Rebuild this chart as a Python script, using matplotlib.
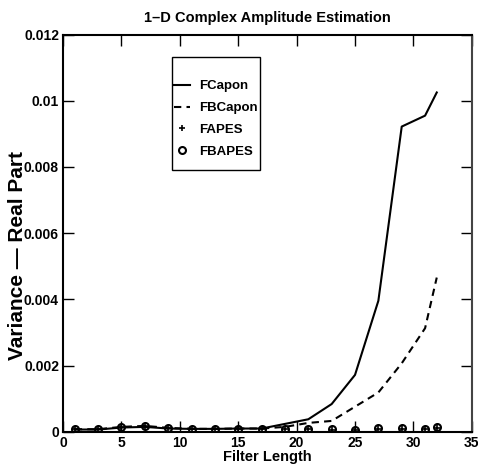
"""Recreate the 1-D complex amplitude estimation variance plot."""

import matplotlib

matplotlib.use("Agg")
import matplotlib.pyplot as plt
from matplotlib.patches import Rectangle

filter_length = [1, 3, 5, 7, 9, 11, 13, 15, 17, 19, 21, 23, 25, 27, 29, 31, 32]

fcapon = [0.07e-3, 0.07e-3, 0.13e-3, 0.15e-3, 0.10e-3, 0.09e-3, 0.09e-3, 0.10e-3,
          0.10e-3, 0.24e-3, 0.38e-3, 0.84e-3, 1.72e-3, 3.96e-3, 9.22e-3, 9.55e-3,
          10.25e-3]
fbcapon = [0.08e-3, 0.08e-3, 0.15e-3, 0.18e-3, 0.12e-3, 0.09e-3, 0.09e-3, 0.10e-3,
           0.10e-3, 0.15e-3, 0.27e-3, 0.33e-3, 0.76e-3, 1.19e-3, 2.07e-3, 3.13e-3,
           4.66e-3]
fapes = [0.08e-3, 0.08e-3, 0.16e-3, 0.19e-3, 0.13e-3, 0.08e-3, 0.08e-3, 0.09e-3,
         0.08e-3, 0.08e-3, 0.09e-3, 0.07e-3, 0.06e-3, 0.10e-3, 0.10e-3, 0.08e-3,
         0.12e-3]
fbapes = [0.08e-3, 0.08e-3, 0.15e-3, 0.18e-3, 0.12e-3, 0.08e-3, 0.08e-3, 0.09e-3,
          0.08e-3, 0.08e-3, 0.09e-3, 0.08e-3, 0.07e-3, 0.11e-3, 0.11e-3, 0.09e-3,
          0.14e-3]

plt.rcParams["font.family"] = ["Liberation Sans", "DejaVu Sans"]
plt.rcParams["font.weight"] = "bold"

fig = plt.figure(figsize=(4.78, 4.73), dpi=100)
ax = fig.add_axes([0.132, 0.087, 0.855, 0.840])

ax.plot(filter_length, fcapon, "k-", lw=1.5, label="FCapon")
ax.plot(filter_length, fbcapon, "k--", lw=1.5, dashes=(3.5, 2.5), label="FBCapon")
ax.plot(filter_length, fapes, "k+", ms=5, mew=1.2, ls="none", label="FAPES")
ax.plot(filter_length, fbapes, "o", ms=5, mew=1.5, mfc="none", mec="k",
        ls="none", label="FBAPES")

ax.set_xlim(0, 35)
ax.set_ylim(0, 0.012)
ax.set_xticks(range(0, 36, 5))
ax.set_yticks([0, 0.002, 0.004, 0.006, 0.008, 0.01, 0.012])
ax.set_yticklabels(["0", "0.002", "0.004", "0.006", "0.008", "0.01", "0.012"])
ax.tick_params(direction="in", top=True, right=True, length=8, width=1,
               labelsize=10, pad=3)
for s in ax.spines.values():
    s.set_linewidth(1.5)
ax.spines["right"].set_color("#444444")

ax.set_title("1\u2013D Complex Amplitude Estimation", fontsize=10.5,
             fontweight="bold", pad=9)
ax.set_xlabel("Filter Length", fontsize=10.5, fontweight="bold", labelpad=0)
ax.set_ylabel("Variance \u2014 Real Part", fontsize=15, fontweight="bold")
ax.yaxis.set_label_coords(-0.088, 0.443)

leg = ax.legend(loc="upper left", bbox_to_anchor=(0.271, 0.885), fontsize=9.5,
                frameon=False, handlelength=1.2, handletextpad=0.7,
                borderpad=0, borderaxespad=0, labelspacing=0.72)
ax.add_patch(Rectangle((0.2665, 0.659), 0.2152, 0.284, transform=ax.transAxes,
                       fill=False, ec="k", lw=1.0, zorder=5))

fig.savefig("out.png", dpi=100)
